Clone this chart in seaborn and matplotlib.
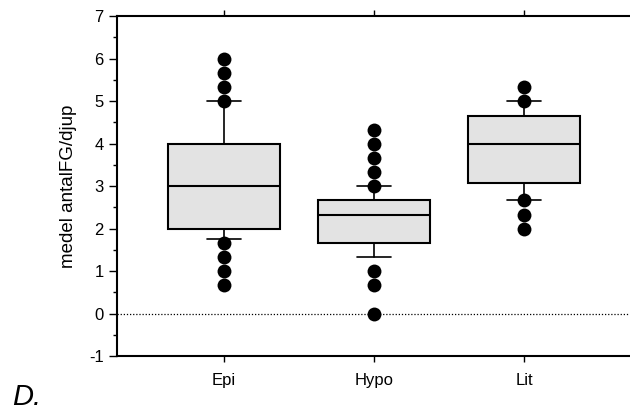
import matplotlib
matplotlib.use('Agg')
import matplotlib.pyplot as plt
import pandas as pd
import seaborn as sns
from matplotlib.ticker import MultipleLocator

sns.set_style('ticks')
plt.rcParams['font.family'] = ['Liberation Sans', 'DejaVu Sans']
plt.rcParams['axes.unicode_minus'] = False
plt.rcParams['text.color'] = 'black'
plt.rcParams['axes.labelcolor'] = 'black'
plt.rcParams['xtick.color'] = 'black'
plt.rcParams['ytick.color'] = 'black'

# box statistics
groups = ['Epi', 'Hypo', 'Lit']
q1 = [2.0, 1.67, 3.08]
med = [3.0, 2.33, 4.0]
q3 = [4.0, 2.67, 4.65]
whislo = [1.75, 1.33, 2.67]
whishi = [5.0, 3.0, 5.0]
out_epi = [0.67, 1.0, 1.33, 1.67, 5.0, 5.33, 5.67, 6.0]
out_hypo = [0.0, 0.67, 1.0, 3.0, 3.33, 3.67, 4.0, 4.33]
out_lit = [2.0, 2.33, 2.67, 5.0, 5.33]

stats = []
for i, g in enumerate(groups):
    stats.append(dict(label=g, q1=q1[i], med=med[i], q3=q3[i],
                      whislo=whislo[i], whishi=whishi[i], fliers=[]))

fliers = pd.DataFrame({
    'lake': ['Epi'] * len(out_epi) + ['Hypo'] * len(out_hypo) + ['Lit'] * len(out_lit),
    'value': out_epi + out_hypo + out_lit,
})

fig = plt.figure(figsize=(6.3, 4.13), dpi=100)
ax = fig.add_axes([0.1857, 0.138, 0.8143, 0.823])

ax.axhline(0, color='black', ls=(0, (1, 1.5)), lw=0.9, zorder=1)

ax.bxp(stats, positions=[0, 1, 2], widths=0.75, capwidths=0.23,
       showfliers=False, patch_artist=True,
       boxprops=dict(facecolor='#e3e3e3', edgecolor='black', linewidth=1.5),
       medianprops=dict(color='black', linewidth=1.5),
       whiskerprops=dict(color='black', linewidth=1.2),
       capprops=dict(color='black', linewidth=1.2))

sns.stripplot(data=fliers, x='lake', y='value', order=groups, jitter=False,
              color='black', size=10, linewidth=0, ax=ax, zorder=5)

ax.set_xlim(-0.713, 2.707)
ax.set_ylim(-1, 7)
ax.set_xticks([0, 1, 2])
ax.set_xticklabels(groups)
ax.yaxis.set_major_locator(MultipleLocator(1))
ax.yaxis.set_minor_locator(MultipleLocator(0.5))
ax.set_xlabel('')
ax.set_ylabel('medel antalFG/djup', fontsize=13.5, labelpad=9)

for s in ['left', 'bottom', 'top']:
    ax.spines[s].set_linewidth(1.5)
    ax.spines[s].set_color('black')
ax.spines['right'].set_visible(False)

ax.tick_params(axis='y', which='major', length=6, width=1, labelsize=12, direction='out')
ax.tick_params(axis='y', which='minor', length=3, width=1, direction='out')
ax.tick_params(axis='x', length=4, width=1, labelsize=12, top=True, pad=8)

fig.text(0.02, 0.02, 'D.', fontsize=21, style='italic')

fig.savefig('out.png', dpi=100)
